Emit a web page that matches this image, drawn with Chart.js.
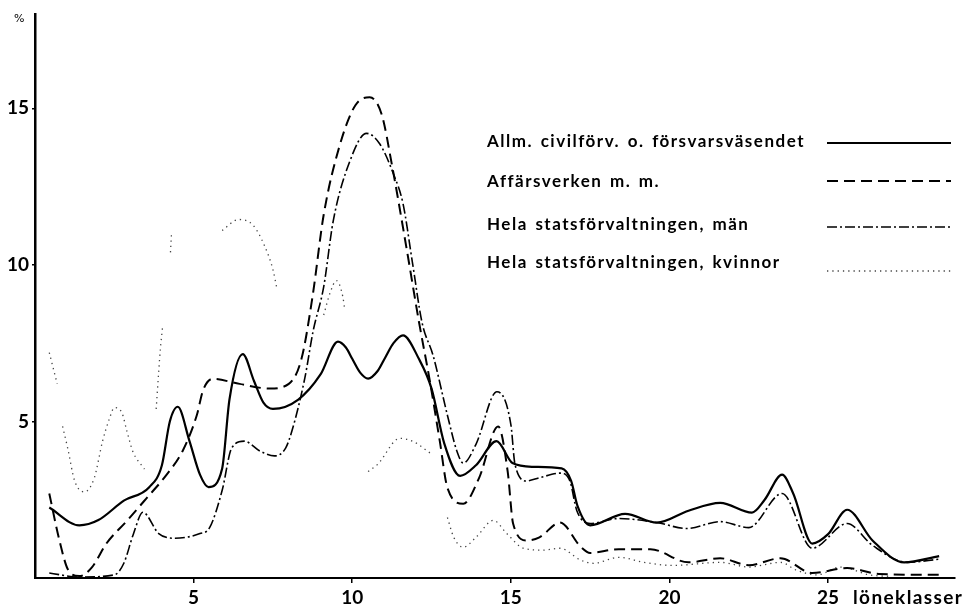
<!DOCTYPE html>
<html>
<head>
<meta charset="utf-8">
<script src="https://cdn.jsdelivr.net/npm/chart.js@4"></script>
<style>
  html, body { margin: 0; padding: 0; background: #fff; }
  canvas { display: block; }
</style>
</head>
<body>
<canvas id="grafico" width="972" height="607"></canvas>
<script>
// löneklasser (x) och procent (y) per serie
const civilX = [0.45, 1.4, 2.0, 2.8, 3.6, 4.0, 4.25, 4.5, 4.87, 5.2, 5.47, 5.9, 6.13, 6.55, 6.9, 7.2, 7.5, 8.3, 9.0, 9.55, 9.8, 10.0, 10.25, 10.5, 10.8, 11.05, 11.3, 11.6, 12.1, 12.5, 12.9, 13.4, 13.9, 14.55, 15.05, 15.7, 16.6, 16.9, 17.1, 17.5, 18.6, 19.6, 20.6, 21.6, 22.6, 23.0, 23.55, 23.9, 24.5, 25.0, 25.6, 26.4, 27.4, 28.5];
const civilY = [2.25, 1.68, 1.85, 2.47, 2.9, 3.6, 5.0, 5.47, 4.37, 3.3, 2.9, 3.5, 5.7, 7.15, 6.3, 5.6, 5.4, 5.7, 6.5, 7.55, 7.36, 7.0, 6.56, 6.37, 6.61, 7.06, 7.5, 7.75, 7.0, 6.05, 4.3, 3.26, 3.6, 4.37, 3.67, 3.55, 3.5, 3.1, 2.3, 1.68, 2.05, 1.77, 2.15, 2.4, 2.09, 2.5, 3.3, 2.7, 1.1, 1.4, 2.18, 1.2, 0.5, 0.7];

const affarX = [0.45, 0.77, 1.05, 1.4, 1.8, 2.25, 2.9, 3.5, 4.15, 4.65, 5.1, 5.3, 5.6, 6.45, 7.4, 8.0, 8.4, 8.75, 9.1, 9.6, 10.1, 10.55, 10.93, 11.25, 11.7, 12.1, 12.45, 12.76, 13.0, 13.5, 14.0, 14.6, 14.9, 15.07, 15.5, 15.9, 16.55, 17.2, 17.5, 18.4, 19.4, 20.6, 21.6, 22.5, 23.5, 24.5, 25.6, 26.6, 28.5];
const affarY = [2.7, 1.2, 0.25, 0.06, 0.35, 1.1, 1.83, 2.53, 3.3, 4.05, 5.2, 6.0, 6.36, 6.2, 6.05, 6.2, 7.0, 9.0, 11.6, 13.8, 15.1, 15.35, 14.8, 13.2, 10.6, 8.2, 6.27, 4.37, 2.88, 2.37, 3.2, 4.84, 3.4, 1.74, 1.2, 1.3, 1.77, 1.0, 0.8, 0.92, 0.92, 0.5, 0.63, 0.41, 0.63, 0.16, 0.32, 0.13, 0.1];

const manX = [0.45, 1.4, 2.5, 2.8, 3.1, 3.4, 3.9, 4.4, 5.2, 5.5, 5.9, 6.2, 6.6, 7.1, 7.55, 7.9, 8.1, 8.5, 8.77, 9.1, 9.4, 9.92, 10.45, 10.87, 11.3, 11.6, 11.9, 12.2, 12.55, 13.0, 13.3, 13.5, 13.9, 14.56, 15.0, 15.13, 15.5, 15.9, 16.55, 16.86, 17.08, 17.5, 18.4, 19.6, 20.55, 21.6, 22.5, 23.55, 24.5, 25.6, 26.4, 27.5, 28.5];
const manY = [0.16, 0.03, 0.1, 0.47, 1.4, 2.1, 1.42, 1.27, 1.42, 1.6, 2.8, 4.15, 4.37, 4.05, 3.9, 4.15, 4.7, 6.36, 7.9, 9.3, 11.4, 13.3, 14.2, 13.86, 12.9, 11.96, 10.06, 8.16, 7.1, 5.2, 4.05, 3.67, 4.27, 5.95, 4.9, 3.63, 3.1, 3.2, 3.35, 3.1, 2.15, 1.74, 1.9, 1.77, 1.58, 1.8, 1.61, 2.7, 0.95, 1.74, 1.04, 0.5, 0.6];

// kvinnor: null = avbrott i kurvan
const kvinnorX = [0.45, 0.7, 0.78, 0.87, 1.03, 1.25, 1.56, 1.87, 2.13, 2.35, 2.5, 2.73, 2.9, 3.08, 3.45, 3.6, 3.82, 3.9, 3.95, 4.02, 4.15, 4.27, 4.3, 5.0, 5.9, 6.42, 6.87, 7.24, 7.5, 7.62, 8.5, 9.1, 9.3, 9.5, 9.7, 9.76, 10.2, 10.5, 10.8, 11.5, 11.9, 12.5, 12.8, 13.0, 13.2, 13.5, 13.9, 14.45, 14.87, 15.4, 16.0, 16.55, 17.2, 17.6, 18.4, 19.2, 20.1, 21.6, 22.5, 23.5, 24.0, 24.65, 25.4, 26.3, 27.0];
const kvinnorY = [7.2, 6.2, null, 4.84, 4.15, 3.1, 2.75, 3.2, 4.37, 5.1, 5.44, 5.3, 4.68, 4.05, 3.48, null, 5.4, 6.6, 7.3, 8.0, null, 10.4, 10.95, null, 11.1, 11.45, 11.27, 10.6, 9.85, 9.27, null, 8.4, 9.1, 9.5, 9.0, 8.6, null, 3.4, 3.63, 4.46, 4.37, 3.96, null, 1.93, 1.3, 0.98, 1.3, 1.84, 1.42, 0.95, 0.89, 0.95, 0.57, 0.47, 0.66, 0.5, 0.4, 0.5, 0.35, 0.5, 0.25, 0.1, 0.35, 0.1, 0.05];

const serieNamn = [
  "Allm. civilförv. o. försvarsväsendet",
  "Affärsverken m. m.",
  "Hela statsförvaltningen, män",
  "Hela statsförvaltningen, kvinnor"
];
const xTicks = [5, 10, 15, 20, 25];
const yTicks = [5, 10, 15];

const punkter = (xs, ys) => xs.map((x, i) => ({ x: x, y: ys[i] }));

const fetFont = { family: "Lato, 'DejaVu Sans', sans-serif", size: 19, weight: "bold" };

// egen legend + axeltexter
const legendPlugin = {
  id: "legendPlugin",
  afterDraw(chart) {
    const ctx = chart.ctx;
    const textBas = [147, 187, 230, 268];
    const linjeY = [143, 181, 227, 271];
    ctx.save();
    ctx.fillStyle = "#000";
    ctx.font = "bold 17px Lato, 'DejaVu Sans', sans-serif";
    ctx.letterSpacing = "1.5px";
    ctx.wordSpacing = "2px";
    ctx.textBaseline = "alphabetic";
    ctx.textAlign = "left";
    chart.data.datasets.forEach((ds, i) => {
      ctx.fillText(ds.label, 487, textBas[i]);
      ctx.beginPath();
      ctx.strokeStyle = ds.borderColor;
      ctx.lineWidth = ds.borderWidth;
      ctx.setLineDash(ds.borderDash || []);
      ctx.moveTo(827, linjeY[i]);
      ctx.lineTo(951, linjeY[i]);
      ctx.stroke();
    });
    ctx.setLineDash([]);
    ctx.font = "bold 19px Lato, 'DejaVu Sans', sans-serif";
    ctx.letterSpacing = "1.4px";
    ctx.wordSpacing = "0px";
    ctx.fillText("löneklasser", 853, 604);
    ctx.letterSpacing = "0px";
    ctx.font = "11px 'DejaVu Sans', sans-serif";
    ctx.fillText("%", 14, 22);
    ctx.restore();
  }
};

new Chart(document.getElementById("grafico").getContext("2d"), {
  type: "line",
  data: {
    datasets: [
      {
        label: serieNamn[0],
        data: punkter(civilX, civilY),
        borderColor: "#000",
        borderWidth: 2.2
      },
      {
        label: serieNamn[1],
        data: punkter(affarX, affarY),
        borderColor: "#000",
        borderWidth: 2,
        borderDash: [11, 6]
      },
      {
        label: serieNamn[2],
        data: punkter(manX, manY),
        borderColor: "#000",
        borderWidth: 1.6,
        borderDash: [10, 3, 2, 3]
      },
      {
        label: serieNamn[3],
        data: punkter(kvinnorX, kvinnorY),
        borderColor: "#444",
        borderWidth: 1.3,
        borderDash: [1.3, 4]
      }
    ]
  },
  options: {
    responsive: false,
    animation: false,
    devicePixelRatio: 1,
    spanGaps: false,
    elements: {
      point: { radius: 0 },
      line: { cubicInterpolationMode: "monotone", fill: false }
    },
    layout: { padding: { top: 9, right: 17, left: 0, bottom: 0 } },
    plugins: {
      legend: { display: false },
      tooltip: { enabled: false }
    },
    scales: {
      x: {
        type: "linear",
        min: 0,
        max: 29,
        afterBuildTicks: s => { s.ticks = xTicks.map(v => ({ value: v })); },
        afterFit: s => { s.height = 29; },
        grid: { drawOnChartArea: false, drawTicks: true, tickLength: 5, color: "#000", lineWidth: 1.5 },
        border: { display: true, color: "#000", width: 2 },
        ticks: { color: "#000", font: fetFont, padding: 3, maxRotation: 0 }
      },
      y: {
        min: 0,
        max: 18,
        afterBuildTicks: s => { s.ticks = yTicks.map(v => ({ value: v })); },
        afterFit: s => { s.width = 35; },
        grid: { drawOnChartArea: false, drawTicks: true, tickLength: 3, color: "#000", lineWidth: 1.5 },
        border: { display: true, color: "#000", width: 2.5 },
        ticks: { color: "#000", font: fetFont, padding: 3 }
      }
    }
  },
  plugins: [legendPlugin]
});
</script>
</body>
</html>
